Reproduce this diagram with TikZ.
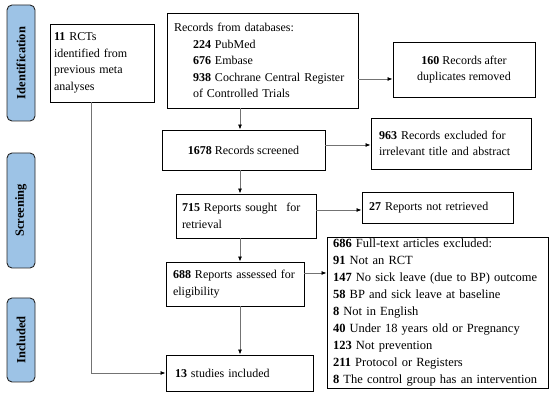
\documentclass[tikz,border=0pt]{standalone}
\usepackage{fontspec}
\setmainfont{Liberation Serif}
\usetikzlibrary{arrows.meta,calc}
\definecolor{phaseblue}{HTML}{9DC3E6}
\begin{document}
\begin{tikzpicture}[x=1pt,y=-1pt,
  box/.style={draw=black, line width=0.9pt, inner sep=0pt, font=\fontsize{12}{16.5}\selectfont},
  phase/.style={draw=black!85, fill=phaseblue, rounded corners=5pt, line width=0.9pt, inner sep=0pt, rotate=90, font=\fontsize{12.5}{14}\selectfont\bfseries},
  conn/.style={draw=black!55, line width=0.8pt, -{Latex[length=5pt,width=4pt,black]}}]
\useasboundingbox (0,0) rectangle (550,406);
% phase labels
\node[phase, minimum width=116, minimum height=28] (pid) at (21,63) {Identification};
\node[phase, minimum width=115, minimum height=28] (pscr) at (21,210.5) {Screening};
\node[phase, minimum width=84, minimum height=28] (pinc) at (21,340) {Included};
% boxes
\node[box, minimum width=104, minimum height=78, text width=96, align=left] (rct) at (102,63)
  {\textbf{11} RCTs\\identified from\\previous meta\\analyses};
\node[box, minimum width=191, minimum height=95, text width=177, align=left] (db) at (262.5,60.5)
  {Records from databases:\\\hspace*{19pt}\textbf{224} PubMed\\\hspace*{19pt}\textbf{676} Embase\\\hspace*{19pt}\textbf{938} Cochrane Central Register\\\hspace*{19pt}of Controlled Trials};
\node[box, minimum width=142, minimum height=55, align=center] (dup) at (464,69.5)
  {\textbf{160} Records after\\duplicates removed};
\node[box, minimum width=163, minimum height=40, align=center] (scr) at (243.5,150)
  {\textbf{1678} Records screened};
\node[box, minimum width=160, minimum height=51, text width=144, align=left] (exc1) at (451,143.5)
  {\textbf{963} Records excluded for\\irrelevant title and abstract};
\node[box, minimum width=140, minimum height=44, text width=128, align=left] (sought) at (246,216)
  {\textbf{715} Reports sought\hspace{5pt} for\\retrieval};
\node[box, minimum width=151, minimum height=31, text width=137, align=left] (notret) at (437.5,207.5)
  {\textbf{27} Reports not retrieved};
\node[box, minimum width=138, minimum height=44, text width=124, align=left] (elig) at (235,284)
  {\textbf{688} Reports assessed for\\eligibility};
\node[box, minimum width=221, minimum height=151, text width=209, align=left, font=\fontsize{12.5}{16.9}\selectfont] (excl) at (437.5,312.5)
  {\textbf{686} Full-text articles excluded:\\
   \textbf{91} Not an RCT\\
   \textbf{147} No sick leave (due to BP) outcome\\
   \textbf{58} BP and sick leave at baseline\\
   \textbf{8} Not in English\\
   \textbf{40} Under 18 years old or Pregnancy\\
   \textbf{123} Not prevention\\
   \textbf{211} Protocol or Registers\\
   \textbf{8} The control group has an intervention};
\node[box, minimum width=147, minimum height=36, text width=129, align=left] (incl) at (239.5,373)
  {\textbf{13} studies included};
% guide coordinates
\coordinate (ax) at (240,0);
\coordinate (ay1) at (0,79);
\coordinate (ay2) at (0,145);
\coordinate (ay3) at (0,210);
\coordinate (ay4) at (0,273);
\coordinate (lx) at (91,0);
% connectors
\draw[conn] (db.south -| ax) -- (scr.north -| ax);
\draw[conn] (scr.south -| ax) -- (sought.north -| ax);
\draw[conn] (sought.south -| ax) -- (elig.north -| ax);
\draw[conn] (elig.south -| ax) -- (incl.north -| ax);
\draw[conn] (db.east |- ay1) -- (dup.west |- ay1);
\draw[conn] (scr.east |- ay2) -- (exc1.west |- ay2);
\draw[conn] (sought.east |- ay3) -- (notret.west |- ay3);
\draw[conn] (elig.east |- ay4) -- (excl.west |- ay4);
\draw[conn] (rct.south -| lx) |- (incl.west);
\end{tikzpicture}
\end{document}
